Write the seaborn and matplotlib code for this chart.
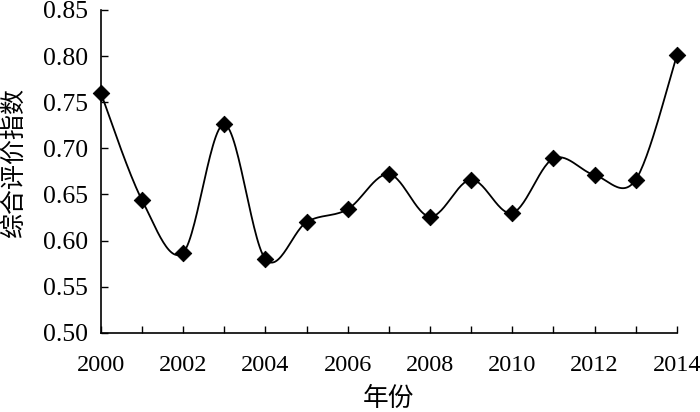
import numpy as np
import pandas as pd
import matplotlib
matplotlib.use("Agg")
import matplotlib.pyplot as plt
import seaborn as sns
from matplotlib.ticker import MultipleLocator, FormatStrFormatter

years = [2000, 2001, 2002, 2003, 2004, 2005, 2006, 2007, 2008, 2009, 2010, 2011, 2012, 2013, 2014]
index_values = [0.760, 0.644, 0.587, 0.726, 0.580, 0.620, 0.634, 0.672, 0.626, 0.666, 0.630, 0.689, 0.671, 0.666, 0.801]
x_label = "年份"
y_label = "综合评价指数"

sns.set_theme(style="ticks")
plt.rcParams['font.family'] = ['Liberation Serif', 'Noto Sans CJK SC']

# smoothed (Bezier / Catmull-Rom style) line through the data points
def smooth(xs, ys, n=30):
    P = np.column_stack([xs, ys]).astype(float)
    P = np.vstack([P[0], P, P[-1]])
    out = []
    t = np.linspace(0, 1, n)[:, None]
    for i in range(1, len(P) - 2):
        p0, p3 = P[i], P[i + 1]
        c1 = p0 + (P[i + 1] - P[i - 1]) / 6
        c2 = p3 - (P[i + 2] - P[i]) / 6
        seg = ((1 - t) ** 3) * p0 + 3 * ((1 - t) ** 2) * t * c1 + 3 * (1 - t) * t ** 2 * c2 + t ** 3 * p3
        out.append(seg if i == 1 else seg[1:])
    return np.vstack(out)

curve = smooth(years, index_values)
df_curve = pd.DataFrame({"x": curve[:, 0], "y": curve[:, 1]})
df_pts = pd.DataFrame({"x": years, "y": index_values})

fig = plt.figure(figsize=(7, 4.12), dpi=100)
ax = fig.add_axes([0.144, 0.192, 0.823, 0.784])
sns.lineplot(data=df_curve, x="x", y="y", ax=ax, color="black", linewidth=1.3, sort=False, estimator=None)
sns.scatterplot(data=df_pts, x="x", y="y", ax=ax, color="black", marker="D", s=70, edgecolor="black", zorder=5, clip_on=False)

ax.set_xlim(2000, 2014)
ax.set_ylim(0.50, 0.85)
ax.xaxis.set_major_locator(MultipleLocator(2))
ax.xaxis.set_minor_locator(MultipleLocator(1))
ax.yaxis.set_major_locator(MultipleLocator(0.05))
ax.yaxis.set_major_formatter(FormatStrFormatter('%.2f'))
ax.tick_params(axis='both', which='both', direction='in', color='black', labelcolor='black', width=1)
ax.tick_params(axis='y', labelsize=18.5)
ax.tick_params(axis='x', labelsize=17.5)
ax.tick_params(axis='both', which='major', length=5)
ax.tick_params(axis='x', which='minor', length=5)
ax.tick_params(axis='y', which='major', pad=9)
ax.tick_params(axis='x', which='major', pad=16)
for s in ['top', 'right']:
    ax.spines[s].set_visible(False)
for s in ['left', 'bottom']:
    ax.spines[s].set_color('black')
    ax.spines[s].set_linewidth(1.2)
ax.set_xlabel(x_label, fontsize=18.5, family=['Noto Sans CJK SC'], color='black')
ax.set_ylabel(y_label, fontsize=18, family=['Noto Sans CJK SC'], color='black')
ax.yaxis.set_label_coords(-0.128, 0.526)
ax.xaxis.set_label_coords(0.5, -0.165)
fig.savefig("out.png", dpi=100)
